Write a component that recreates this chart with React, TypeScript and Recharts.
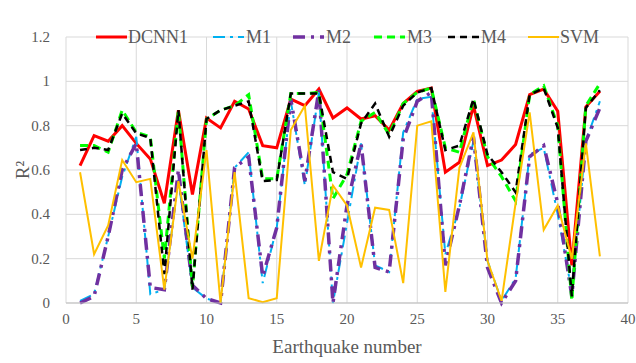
import { CartesianGrid, Legend, Line, LineChart, XAxis, YAxis } from 'recharts';

const quakes = [
  1, 2, 3, 4, 5, 6, 7, 8, 9, 10, 11, 12, 13, 14, 15, 16, 17, 18, 19, 20,
  21, 22, 23, 24, 25, 26, 27, 28, 29, 30, 31, 32, 33, 34, 35, 36, 37, 38
];

const dcnn1 = [
  0.62, 0.755, 0.73, 0.8, 0.72, 0.65, 0.45, 0.87, 0.49, 0.834, 0.79, 0.91, 0.875, 0.71, 0.7, 0.92, 0.89, 0.965, 0.835,
  0.88, 0.83, 0.845, 0.78, 0.9, 0.955, 0.97, 0.59, 0.635, 0.89, 0.62, 0.645, 0.715, 0.94, 0.965, 0.865, 0.17, 0.885, 0.955
];
const m1 = [
  0.01, 0.04, 0.3, 0.57, 0.75, 0.04, 0.06, 0.56, 0.07, 0.02, 0.0, 0.61, 0.68, 0.09, 0.34, 0.91, 0.53, 0.95, 0.0,
  0.36, 0.72, 0.17, 0.14, 0.77, 0.92, 0.93, 0.22, 0.43, 0.73, 0.19, 0.01, 0.11, 0.67, 0.7, 0.4, 0.05, 0.73, 0.91
];
const m2 = [
  0.0, 0.03, 0.3, 0.6, 0.72, 0.07, 0.06, 0.6, 0.08, 0.02, 0.0, 0.61, 0.66, 0.12, 0.34, 0.92, 0.55, 0.96, 0.0,
  0.44, 0.72, 0.16, 0.14, 0.74, 0.91, 0.95, 0.17, 0.44, 0.75, 0.16, 0.0, 0.1, 0.66, 0.71, 0.45, 0.03, 0.73, 0.88
];
const m3 = [
  0.71, 0.71, 0.68, 0.87, 0.77, 0.75, 0.2, 0.87, 0.07, 0.83, 0.87, 0.89, 0.94, 0.56, 0.56, 0.945, 0.945, 0.95, 0.47,
  0.58, 0.82, 0.86, 0.76, 0.9, 0.95, 0.97, 0.7, 0.68, 0.92, 0.66, 0.57, 0.46, 0.94, 0.98, 0.8, 0.01, 0.89, 0.99
];
const m4 = [
  0.69, 0.7, 0.69, 0.855, 0.765, 0.745, 0.13, 0.87, 0.06, 0.83, 0.87, 0.89, 0.91, 0.55, 0.555, 0.945, 0.945, 0.945, 0.59,
  0.56, 0.81, 0.9, 0.75, 0.89, 0.95, 0.97, 0.69, 0.71, 0.92, 0.67, 0.59, 0.5, 0.94, 0.97, 0.79, 0.03, 0.88, 0.96
];
const svm = [
  0.59, 0.22, 0.35, 0.645, 0.545, 0.56, 0.06, 0.55, 0.2, 0.69, 0.0, 0.59, 0.022, 0.004, 0.022, 0.78, 0.89, 0.19, 0.53,
  0.44, 0.16, 0.43, 0.42, 0.09, 0.8, 0.82, 0.05, 0.61, 0.77, 0.19, 0.01, 0.45, 0.86, 0.33, 0.44, 0.2, 0.72, 0.21
];

const xTicks = [0, 5, 10, 15, 20, 25, 30, 35, 40];
const yTicks = [0, 0.2, 0.4, 0.6, 0.8, 1, 1.2];

const data = quakes.map((q, i) => ({
  q,
  DCNN1: dcnn1[i],
  M1: m1[i],
  M2: m2[i],
  M3: m3[i],
  M4: m4[i],
  SVM: svm[i]
}));

const series = [
  { key: 'DCNN1', color: '#ff0000', width: 3, dash: undefined, left: 96 },
  { key: 'M1', color: '#00b0f0', width: 2, dash: '12 5 3 5', left: 213 },
  { key: 'M2', color: '#7030a0', width: 3.5, dash: '12 6 3 6', left: 293 },
  { key: 'M3', color: '#00ff00', width: 3, dash: '8 5', left: 374 },
  { key: 'M4', color: '#000000', width: 2.5, dash: '7 5', left: 448 },
  { key: 'SVM', color: '#ffc000', width: 2, dash: undefined, left: 528 }
];

const FONT = '"Liberation Serif", "Times New Roman", serif';
const textStyle = { fontFamily: FONT };

function ChartLegend() {
  return (
    <div style={{ position: 'relative', height: 24, fontFamily: FONT, fontSize: 18, color: '#595959' }}>
      {series.map((s) => (
        <div key={s.key} style={{ position: 'absolute', left: s.left, top: 0, display: 'flex', alignItems: 'center' }}>
          <svg width={31} height={10}>
            <line x1={0} y1={5} x2={31} y2={5} stroke={s.color} strokeWidth={s.width} strokeDasharray={s.dash} />
          </svg>
          <span style={{ marginLeft: s.dash ? 2 : 1, lineHeight: '24px' }}>{s.key}</span>
        </div>
      ))}
    </div>
  );
}

function XTick({ x, y, payload }: any) {
  return (
    <text x={x} y={y + 13} textAnchor="middle" fill="#595959" fontSize={15} style={textStyle}>
      {payload.value}
    </text>
  );
}

function YTick({ x, y, payload }: any) {
  const v = Math.round(payload.value * 10) / 10;
  return (
    <text x={x} y={y + 5} textAnchor="end" fill="#595959" fontSize={15} style={textStyle}>
      {String(v)}
    </text>
  );
}

export default function App() {
  return (
    <div style={{ position: 'absolute', left: 0, top: 0, background: '#fff', fontFamily: FONT }}>
      <LineChart width={636} height={363} data={data} margin={{ top: 13, right: 8, left: 0, bottom: 0 }}>
        <CartesianGrid stroke="#d9d9d9" strokeWidth={1} />
        <XAxis
          dataKey="q"
          type="number"
          domain={[0, 40]}
          ticks={xTicks}
          height={60}
          tickLine={false}
          axisLine={{ stroke: '#bfbfbf' }}
          tick={<XTick />}
          label={{ value: 'Earthquake number', position: 'insideBottom', offset: 10, fill: '#595959', fontSize: 19, fontFamily: FONT }}
        />
        <YAxis
          type="number"
          domain={[0, 1.2]}
          ticks={yTicks}
          width={66}
          tickLine={false}
          axisLine={false}
          tickSize={8}
          tickMargin={8}
          tick={<YTick />}
          label={{ value: 'R²', angle: -90, position: 'center', dx: -11, fill: '#595959', fontSize: 19, fontFamily: FONT }}
        />
        <Legend verticalAlign="top" content={() => <ChartLegend />} wrapperStyle={{ top: 25, left: 0, width: 636 }} />
        {series.map((s) => (
          <Line
            key={s.key}
            type="linear"
            dataKey={s.key}
            stroke={s.color}
            strokeWidth={s.width}
            strokeDasharray={s.dash}
            dot={false}
            activeDot={false}
            isAnimationActive={false}
          />
        ))}
      </LineChart>
    </div>
  );
}
